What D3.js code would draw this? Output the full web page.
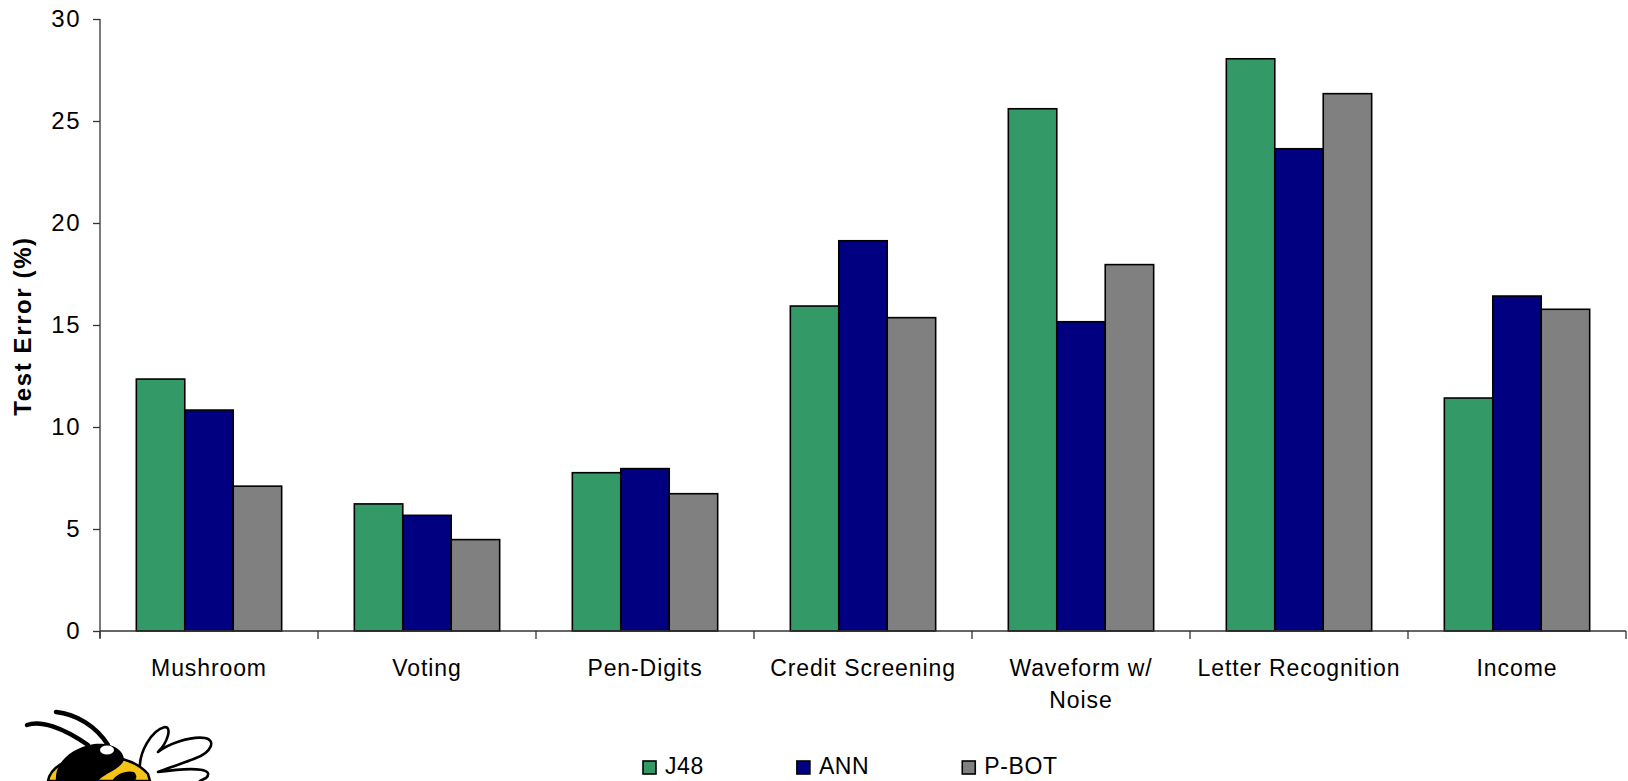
<!DOCTYPE html>
<html>
<head>
<meta charset="utf-8">
<script src="https://cdn.jsdelivr.net/npm/d3@7/dist/d3.min.js"></script>
<style>
  html, body { margin: 0; padding: 0; background: #fff; }
  svg { display: block; font-family: "Liberation Sans", Arial, sans-serif; }
</style>
</head>
<body>
<svg id="chart" width="1628" height="781"></svg>
<script>
// Classification test error by data set and method
const categories = ["Mushroom", "Voting", "Pen-Digits", "Credit Screening", "Waveform w/\nNoise", "Letter Recognition", "Income"];
const seriesNames = ["J48", "ANN", "P-BOT"];
const j48Values  = [12.35, 6.23, 7.76, 15.93, 25.6, 28.05, 11.42];
const annValues  = [10.83, 5.67, 7.96, 19.13, 15.16, 23.64, 16.42];
const pbotValues = [7.1, 4.48, 6.73, 15.36, 17.96, 26.34, 15.77];
const yTicks = [0, 5, 10, 15, 20, 25, 30];
const seriesColors = ["#339966", "#000080", "#808080"];

const seriesValues = [j48Values, annValues, pbotValues];

const svg = d3.select("#chart");
const plot = { left: 100, right: 1626, top: 19, bottom: 631 };

const x = d3.scaleBand().domain(categories).range([plot.left, plot.right]);
const xInner = d3.scaleBand().domain(seriesNames)
  .range([x.bandwidth() / 6, x.bandwidth() * 5 / 6]);
const y = d3.scaleLinear().domain([0, 30]).range([plot.bottom, plot.top]);

// Bars
const groups = svg.append("g").selectAll("g")
  .data(categories)
  .join("g")
  .attr("transform", d => `translate(${x(d)},0)`);

groups.selectAll("rect")
  .data((c, i) => seriesNames.map((s, k) => ({ s, k, v: seriesValues[k][i] })))
  .join("rect")
  .attr("x", d => xInner(d.s))
  .attr("width", xInner.bandwidth())
  .attr("y", d => y(d.v))
  .attr("height", d => y(0) - y(d.v))
  .attr("fill", d => seriesColors[d.k])
  .attr("stroke", "#000")
  .attr("stroke-width", 1.6);

// Y axis
const yAxis = svg.append("g")
  .attr("transform", `translate(${plot.left},0)`)
  .call(d3.axisLeft(y).tickValues(yTicks).tickSize(7).tickPadding(12));
yAxis.select(".domain").remove();
yAxis.append("line")
  .attr("x1", 0).attr("x2", 0)
  .attr("y1", plot.top).attr("y2", plot.bottom + 7)
  .attr("stroke", "#333").attr("stroke-width", 1.3);
yAxis.selectAll(".tick line").attr("stroke", "#333").attr("stroke-width", 1.3);
yAxis.selectAll(".tick text")
  .attr("fill", "#000")
  .style("font-size", "24px")
  .style("letter-spacing", "1.5px");

// X axis: baseline with separators between categories
const xAxis = svg.append("g");
xAxis.append("line")
  .attr("x1", plot.left).attr("x2", plot.right)
  .attr("y1", plot.bottom).attr("y2", plot.bottom)
  .attr("stroke", "#333").attr("stroke-width", 1.3);
const boundaries = categories.map(c => x(c)).concat([x(categories[categories.length - 1]) + x.bandwidth()]);
xAxis.selectAll("line.sep")
  .data(boundaries)
  .join("line")
  .attr("class", "sep")
  .attr("x1", d => d).attr("x2", d => d)
  .attr("y1", plot.bottom).attr("y2", plot.bottom + 8)
  .attr("stroke", "#333").attr("stroke-width", 1.3);

const xLabels = xAxis.selectAll("text.cat")
  .data(categories)
  .join("text")
  .attr("class", "cat")
  .attr("x", d => x(d) + x.bandwidth() / 2)
  .attr("y", 676)
  .attr("text-anchor", "middle")
  .style("font-size", "23px")
  .style("letter-spacing", "0.9px")
  .attr("fill", "#000");
xLabels.each(function (d) {
  const lines = d.split("\n");
  d3.select(this).selectAll("tspan")
    .data(lines)
    .join("tspan")
    .attr("x", x(d) + x.bandwidth() / 2)
    .attr("dy", (l, i) => i === 0 ? 0 : 32)
    .text(l => l);
});

// Y axis title
svg.append("text")
  .attr("transform", `translate(31,326) rotate(-90)`)
  .attr("text-anchor", "middle")
  .style("font-size", "24px")
  .style("font-weight", "bold")
  .style("letter-spacing", "1.6px")
  .text("Test Error (%)");

// Legend
const legend = svg.append("g");
let lx = 643;
seriesNames.forEach((s, k) => {
  const item = legend.append("g");
  item.append("rect")
    .attr("x", lx).attr("y", 761)
    .attr("width", 13).attr("height", 13)
    .attr("fill", seriesColors[k])
    .attr("stroke", "#000").attr("stroke-width", 1.6);
  const t = item.append("text")
    .attr("x", lx + 22).attr("y", 774)
    .style("font-size", "23px")
    .style("letter-spacing", "0.6px")
    .text(s);
  lx += 22 + t.node().getComputedTextLength() + 93;
});

// Mascot emblem in the lower-left corner
const bee = svg.append("g").attr("stroke-linecap", "round").attr("stroke-linejoin", "round");
// wings
bee.append("path")
  .attr("d", "M140,772 C138,752 152,730 165,727 C172,727 168,742 158,752 C168,744 190,736 205,738 C216,740 212,752 196,758 C184,763 168,768 158,772 C200,766 214,770 206,778 L200,781")
  .attr("fill", "#fff").attr("stroke", "#000").attr("stroke-width", 2.6);
// antennae
bee.append("path")
  .attr("d", "M27,725 C40,720 62,727 88,745")
  .attr("fill", "none").attr("stroke", "#000").attr("stroke-width", 4.5);
bee.append("path")
  .attr("d", "M56,712 C76,714 96,726 108,745")
  .attr("fill", "none").attr("stroke", "#000").attr("stroke-width", 4.5);
// face
bee.append("path")
  .attr("d", "M48,781 C50,768 66,758 88,756 C112,754 136,760 148,774 L150,781 Z")
  .attr("fill", "#f6c416").attr("stroke", "#000").attr("stroke-width", 2.5);
// dark head cap and eye
bee.append("path")
  .attr("d", "M56,781 C54,764 70,748 94,744 C112,742 124,750 124,760 C120,770 106,772 98,781 Z")
  .attr("fill", "#000");
bee.append("ellipse")
  .attr("cx", 107).attr("cy", 750).attr("rx", 7).attr("ry", 4.5)
  .attr("fill", "#fff");
bee.append("path")
  .attr("d", "M112,781 C116,774 126,770 134,772 C138,776 136,780 134,781 Z")
  .attr("fill", "#000");
</script>
</body>
</html>
